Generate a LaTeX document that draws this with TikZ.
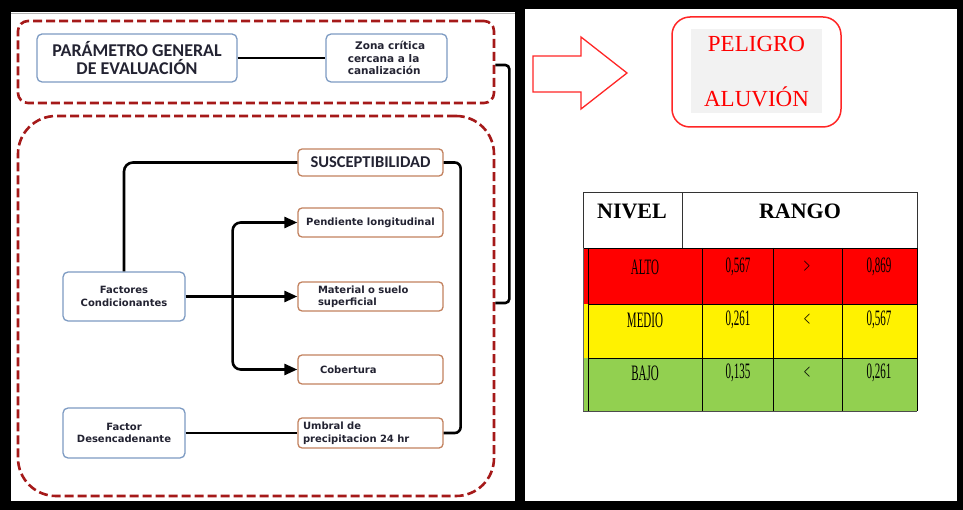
\documentclass[tikz,border=0pt]{standalone}
\usepackage{fontspec}
\usepackage{graphicx}
\setmainfont{Liberation Serif}
\newfontfamily\carl{Carlito}
\newfontfamily\dvs{DejaVu Sans}
\usetikzlibrary{arrows.meta}
\definecolor{dred}{RGB}{165,25,25}
\definecolor{bbord}{RGB}{125,155,195}
\definecolor{obord}{RGB}{195,130,95}
\definecolor{txt}{RGB}{35,35,50}
\definecolor{grn}{RGB}{146,208,80}
\definecolor{pgray}{RGB}{242,242,242}
\begin{document}
\begin{tikzpicture}[x=1pt,y=-1pt,
  grp/.style={draw=dred, line width=2.6pt, dash pattern=on 9pt off 4pt, rectangle},
  bbox/.style={draw=bbord, line width=1.3pt, rounded corners=5pt, fill=white, text=txt},
  obox/.style={draw=obord, line width=1.3pt, rounded corners=4pt, fill=white, text=txt, minimum width=145pt},
  small/.style={font=\dvs\bfseries\fontsize{10}{12.5}\selectfont},
  conn/.style={line width=2.6pt, black},
  arr/.style={conn, -{Triangle[length=13pt,width=11pt]}},
  tcell/.style={font=\fontsize{22}{23}\selectfont, text=black, anchor=center, inner sep=0pt},
  thead/.style={font=\bfseries\fontsize{22}{24}\selectfont, text=black, anchor=center, inner sep=0pt},
  rtext/.style={font=\fontsize{23}{24}\selectfont, text=red, anchor=center, inner sep=0pt}
]
\useasboundingbox (0,0) rectangle (963,510);
\fill[white] (0,0) rectangle (963,510);
% frame
\fill[black] (0,0) rectangle (963,9);
\fill[black] (0,0) rectangle (520,12);
\fill[black] (0,501) rectangle (963,510);
\fill[black] (0,0) rectangle (11,510);
\fill[black] (957,0) rectangle (963,510);
\fill[black] (515,0) rectangle (525,510);
\draw[gray!60, line width=1pt] (11,13.5) -- (515,13.5);

% groups
\node[grp, rounded corners=10pt, minimum width=476pt, minimum height=82pt] (topgrp) at (256,62) {};
\node[grp, rounded corners=38pt, minimum width=476pt, minimum height=380pt] (lowgrp) at (256,306) {};

% top boxes
\node[bbox, minimum width=200pt, minimum height=48pt, align=center,
      font=\carl\bfseries\fontsize{18}{18.5}\selectfont] (pg) at (137,58) {PARÁMETRO GENERAL\\DE EVALUACIÓN};
\node[bbox, small, minimum width=121pt, minimum height=48pt, align=left,
      font=\dvs\bfseries\fontsize{10.5}{12.5}\selectfont] (zona) at (386.5,58) {\ \ Zona crítica\\cercana a la\\canalización};
\draw[conn] (pg.east) -- (zona.west);

% left boxes
\node[bbox, small, minimum width=122pt, minimum height=49pt, align=center] (fc) at (124,296.5) {Factores\\Condicionantes};
\node[bbox, small, minimum width=122pt, minimum height=50pt, align=center] (fd) at (124,433) {Factor\\Desencadenante};

% right boxes
\node[obox, minimum height=27pt, font=\carl\bfseries\fontsize{16.5}{17}\selectfont] (susc) at (370.5,162.5) {SUSCEPTIBILIDAD};
\node[obox, small, minimum height=29pt] (pend) at (370.5,222.5) {Pendiente longitudinal};
\node[obox, small, minimum height=29pt, align=left, text width=115pt, inner xsep=15pt] (mat) at (370.5,296.5) {\hspace*{5pt}Material o suelo\\\hspace*{5pt}superficial};
\node[obox, small, minimum height=29pt, align=left, text width=115pt, inner xsep=15pt] (cob) at (370.5,369.5) {\hspace*{7pt}Cobertura};
\node[obox, small, minimum height=30pt, align=left, text width=135pt, inner xsep=5pt] (umb) at (370.5,433) {Umbral de\\precipitacion 24 hr};

% connectors
\draw[conn, rounded corners=9pt] (fc.north) |- (susc.west);
\coordinate (br) at ([xshift=47pt]fc.east);
\draw[arr] (fc.east) -- (mat.west);
\draw[arr, rounded corners=8pt] (br) |- (pend.west);
\draw[arr, rounded corners=8pt] (br) |- (cob.west);
\draw[conn] (fd.east) -- (umb.west);
\draw[conn, rounded corners=6pt] (susc.east) -- ++(17,0) |- (umb.east);
\draw[conn, rounded corners=4pt] ([yshift=-3pt]topgrp.east) -- ++(14,0) |- ([yshift=3pt]lowgrp.east);

% right panel: block arrow
\draw[red!85, line width=1.3pt, line join=miter] (533,56) -- (581,56) -- (581,37) -- (627,73) -- (581,109) -- (581,92) -- (533,92) -- cycle;
\node[draw=red!85, line width=1.5pt, rounded corners=18pt, minimum width=169pt, minimum height=110pt] (pframe) at (756.5,72) {};
\node[fill=pgray, minimum width=131pt, minimum height=84pt, inner sep=0pt] (pbg) at (756.5,71) {};
\node[rtext] (peligro) at (756.5,44.5) {PELIGRO};
\node[rtext] (aluvion) at (756.5,97) {ALUVIÓN};

% table fills
\fill[red] (583,248) rectangle (917,304);
\fill[yellow] (583,304) rectangle (917,358);
\fill[grn] (583,358) rectangle (917,411);
% header
\draw[black!80, line width=1pt] (583,248) -- (583,193) -- (917,193) -- (917,248);
\draw[black!80, line width=1pt] (682,193) -- (682,248);
\draw[black, line width=0.8pt] (583,248) -- (917,248);
% grid
\draw[black, line width=0.8pt] (588,304) -- (917,304);
\draw[black, line width=0.8pt] (588,358) -- (917,358);
\draw[black!70, line width=0.8pt] (583,411) -- (917,411);
\foreach \xx in {588,702,773,842,917} {\draw[black, line width=0.8pt] (\xx,248) -- (\xx,411);}
\draw[black!60, line width=0.8pt] (583,248) -- (583,411);

\node[thead] (hniv) at (632,211) {NIVEL};
\node[thead] (hran) at (800,211) {RANGO};

\node[tcell] (a1) at (645,267) {\scalebox{0.5}[1]{ALTO}};
\node[tcell] (a2) at (738,267) {\scalebox{0.5}[1]{0,567}};
\node[tcell] (a3) at (807,267) {\scalebox{0.5}[1]{>}};
\node[tcell] (a4) at (879,267) {\scalebox{0.5}[1]{0,869}};
\node[tcell] (m1) at (645,320) {\scalebox{0.5}[1]{MEDIO}};
\node[tcell] (m2) at (738,320) {\scalebox{0.5}[1]{0,261}};
\node[tcell] (m3) at (807,320) {\scalebox{0.5}[1]{<}};
\node[tcell] (m4) at (879,320) {\scalebox{0.5}[1]{0,567}};
\node[tcell] (b1) at (645,373) {\scalebox{0.5}[1]{BAJO}};
\node[tcell] (b2) at (738,373) {\scalebox{0.5}[1]{0,135}};
\node[tcell] (b3) at (807,373) {\scalebox{0.5}[1]{<}};
\node[tcell] (b4) at (879,373) {\scalebox{0.5}[1]{0,261}};
\end{tikzpicture}
\end{document}
